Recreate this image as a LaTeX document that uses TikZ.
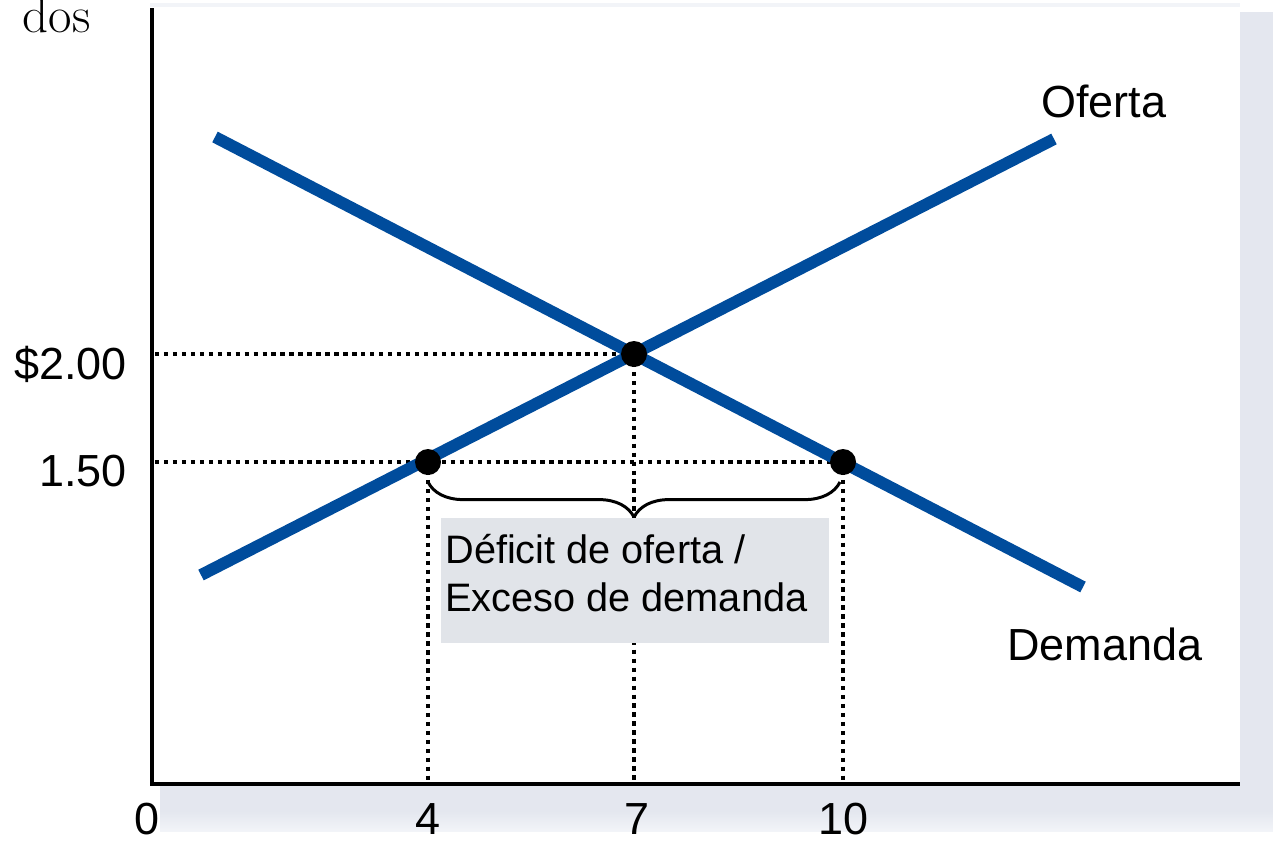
\documentclass[tikz,border=0pt]{standalone}
\usepackage{fontspec}
\newfontfamily\arialf{Liberation Sans}
\usetikzlibrary{decorations.pathreplacing}
\definecolor{curveblue}{RGB}{0,76,156}
\definecolor{shadowc}{RGB}{228,231,239}
\definecolor{shadowl}{RGB}{242,244,248}
\definecolor{boxgray}{RGB}{225,228,233}
\begin{document}
\begin{tikzpicture}[x=0.02cm,y=-0.02cm,
  lbl/.style={inner sep=0pt,font=\arialf\fontsize{25.6}{30}\selectfont},
  boxtext/.style={inner sep=0pt,font=\arialf\fontsize{22.6}{27}\selectfont},
  axisline/.style={line width=2.8pt,line join=miter,black},
  dotline/.style={line width=2.5pt,dash pattern=on 2.5pt off 2.6pt,black},
  curve/.style={line width=6.8pt,curveblue},
  dotpt/.style={circle,fill=black,inner sep=0pt,minimum size=14.8pt},
  bracestyle/.style={line width=1.7pt,decorate,decoration={brace,mirror,amplitude=20pt}},
  gapbox/.style={fill=boxgray,inner sep=0pt,minimum width=7.76cm,minimum height=2.5cm}]
\useasboundingbox (0,0) rectangle (1273,840);
\fill[white] (0,0) rectangle (1273,840);
% shadow
\fill[shadowl] (150,3) rectangle (1240,7);
\fill[shadowc] (1240,12) rectangle (1273,812);
\fill[shadowc] (160,786) rectangle (1273,812);
\shade[top color=shadowc,bottom color=shadowl] (160,811) rectangle (1273,831);
% cut-off title
\node[inner sep=0pt,anchor=base east,font=\fontsize{29}{33}\selectfont] (title) at (91,32) {dos};
% axes
\coordinate (O) at (152,784);
\coordinate (Ytop) at (152,8);
\coordinate (Xend) at (1240,784);
\draw[axisline] (Ytop) -- (O) -- (Xend);
% key points
\coordinate (a) at (428,462);
\coordinate (e) at (634,354);
\coordinate (b) at (843,462);
\coordinate (P200) at (155,354);
\coordinate (P150) at (155,462);
\coordinate (Q4) at (428,782);
\coordinate (Q7) at (634,782);
\coordinate (Q10) at (843,782);
% dotted guides
\draw[dotline] (P200) -- (e);
\draw[dotline] (P150) -- (b);
\draw[dotline] (a) -- (Q4);
\draw[dotline] (e) -- (Q7);
\draw[dotline] (b) -- (Q10);
% curves
\coordinate (S1) at (201,575);
\coordinate (S2) at (1054,139);
\coordinate (D1) at (215,137);
\coordinate (D2) at (1083,587);
\draw[curve] (S1) -- (S2);
\draw[curve] (D1) -- (D2);
% points
\node[dotpt] (A) at (a) {};
\node[dotpt] (E) at (e) {};
\node[dotpt] (B) at (b) {};
% brace
\coordinate (BrL) at (428,482);
\coordinate (BrR) at (840,482);
\draw[bracestyle] (BrL) -- (BrR);
% box
\node[gapbox] (gap) at (635,580.5) {};
\node[boxtext,anchor=base west] (t1) at (445,563) {Déficit de oferta /};
\node[boxtext,anchor=base west] (t2) at (445,611) {Exceso de demanda};
% labels
\node[lbl,anchor=base west] (of) at (1041,117) {Oferta};
\node[lbl,anchor=base west] (dem) at (1007,660) {Demanda};
\node[lbl,anchor=base east] (p2) at (127,379) {\$2.00};
\node[lbl,anchor=base east] (p15) at (127,486) {1.50};
\node[lbl,anchor=base] (x0) at (147,834) {0};
\node[lbl,anchor=base] (x4) at (428,834) {4};
\node[lbl,anchor=base] (x7) at (637,834) {7};
\node[lbl,anchor=base] (x10) at (843,834) {10};
\end{tikzpicture}
\end{document}
